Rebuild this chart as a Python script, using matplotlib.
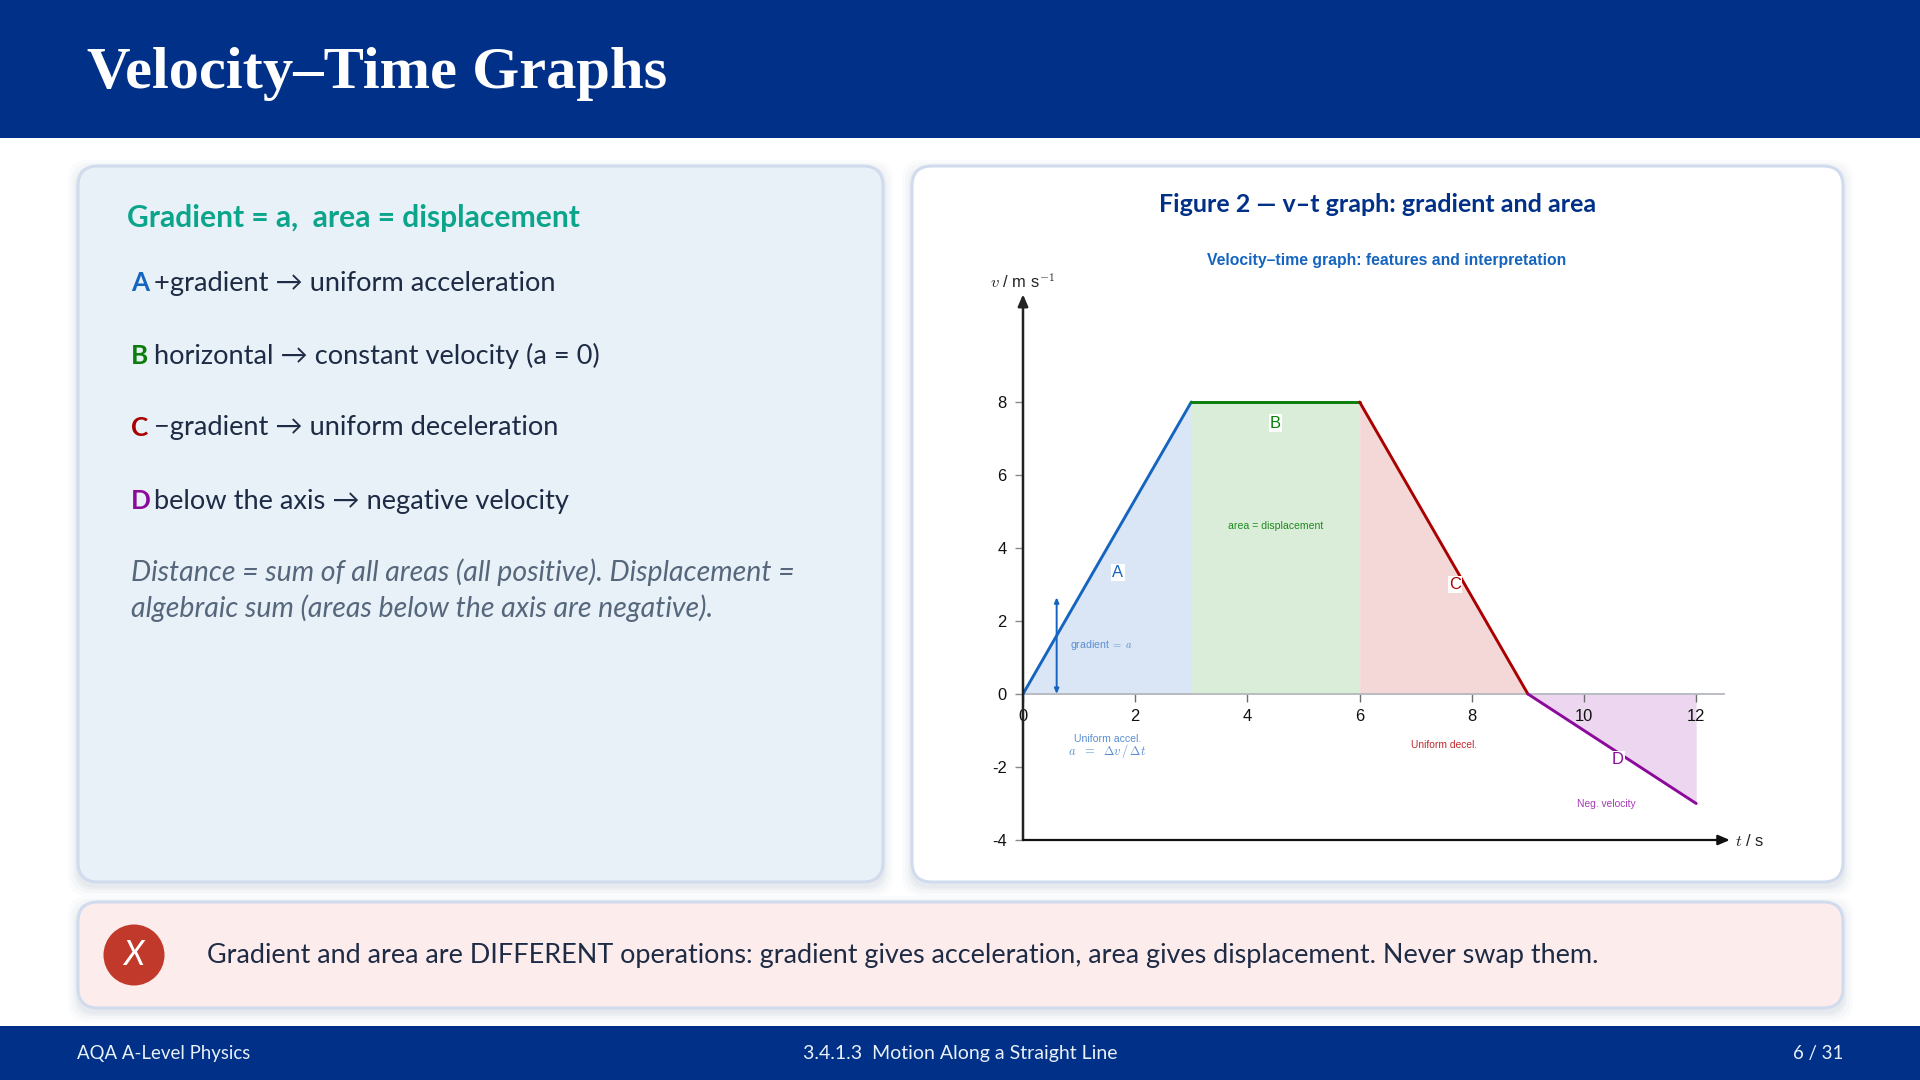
import matplotlib
matplotlib.use("Agg")
import matplotlib.pyplot as plt
from matplotlib.patches import FancyBboxPatch, Rectangle, Circle

plt.rcParams['mathtext.fontset'] = 'cm'

W, H = 1920, 1080
NAVY = '#003087'
INK = '#1E2B45'
BORDER = '#D0DCEE'

t_pts = [0, 3, 6, 9, 12]
v_pts = [0, 8, 8, 0, -3]
seg_lines = ['#1565C0', '#0A7D0A', '#AA0000', '#8B0A9B']
seg_fills = ['#DAE6F5', '#DAEDD8', '#F4D8D8', '#EDD7F0']
x_ticks = [0, 2, 4, 6, 8, 10, 12]
y_ticks = [-4, -2, 0, 2, 4, 6, 8]
point_labels = ['A', 'B', 'C', 'D']
point_t = [1.69, 4.5, 7.7, 10.6]
point_v = [3.33, 7.42, 3.0, -1.80]
bullets = [('A', '+gradient → uniform acceleration'),
           ('B', 'horizontal → constant velocity (a = 0)'),
           ('C', '−gradient → uniform deceleration'),
           ('D', 'below the axis → negative velocity')]
bullet_colors = ['#1565C0', '#0A7D0A', '#AA0000', '#8B0A9B']

fig = plt.figure(figsize=(19.2, 10.8), dpi=100, facecolor='white')
bg = fig.add_axes([0, 0, 1, 1])
bg.set_xlim(0, W); bg.set_ylim(H, 0); bg.axis('off')
FS = 0.72
LAT = ['Lato', 'DejaVu Sans']


def panel(x0, y0, x1, y1, fc):
    r = 20
    for i, a in zip((10, 7, 4, 2), (0.02, 0.025, 0.03, 0.03)):
        bg.add_patch(FancyBboxPatch((x0 - i + r, y0 + 4 - i + r), x1 - x0 + 2 * i - 2 * r, y1 - y0 + 2 * i - 2 * r,
                                    boxstyle=f'round,pad={r},rounding_size={r}', fc='#1E3A6E', ec='none', alpha=a))
    bg.add_patch(FancyBboxPatch((x0 + r, y0 + r), x1 - x0 - 2 * r, y1 - y0 - 2 * r,
                                boxstyle=f'round,pad={r},rounding_size={r}', fc=fc, ec=BORDER, lw=2.2))


bg.add_patch(Rectangle((0, 0), W, 138, fc=NAVY, ec='none'))
bg.add_patch(Rectangle((0, 1026), W, 54, fc=NAVY, ec='none'))
bg.text(87, 74, 'Velocity–Time Graphs', color='white', fontsize=60.5 * FS, family='Liberation Serif',
        weight='bold', va='center', ha='left')

panel(78, 166, 883, 882, '#E8F0F8')
panel(912, 166, 1843, 882, 'white')
panel(78, 902, 1843, 1008, '#FDECEC')

bg.text(127, 218, 'Gradient = a,  area = displacement', color='#0CA58C', fontsize=30 * FS, family=LAT,
        weight='bold', va='center')
for (k, body), c, y in zip(bullets, bullet_colors, (283, 356, 428, 501)):
    bg.text(131, y, k, color=c, fontsize=26 * FS, family=LAT, weight='bold', va='center')
    bg.text(154, y, body, color=INK, fontsize=27.3 * FS, family=LAT, va='center')
bg.text(131, 572, 'Distance = sum of all areas (all positive). Displacement =', color='#56677C',
        fontsize=28.5 * FS, family=LAT, style='italic', va='center')
bg.text(131, 608, 'algebraic sum (areas below the axis are negative).', color='#56677C',
        fontsize=28.5 * FS, family=LAT, style='italic', va='center')

bg.text(1378, 204, 'Figure 2 — v–t graph: gradient and area', color=NAVY, fontsize=25 * FS, family=LAT,
        weight='bold', ha='center', va='center')
bg.text(1387, 261, 'Velocity–time graph: features and interpretation', color='#1565C0', fontsize=15.8 * FS,
        family='Liberation Sans', weight='bold', ha='center', va='center')

bg.add_patch(Circle((134, 955), 30.5, fc='#C0392B', ec='none'))
bg.text(134, 955, 'X', color='white', fontsize=34 * FS, family='Lato', style='italic',
        ha='center', va='center')
bg.text(207, 956, 'Gradient and area are DIFFERENT operations: gradient gives acceleration, area gives displacement. Never swap them.',
        color=INK, fontsize=27.05 * FS, family=LAT, va='center')

bg.text(77, 1054, 'AQA A-Level Physics', color='#E8F0F8', fontsize=18.7 * FS, family=LAT, va='center')
bg.text(960, 1054, '3.4.1.3  Motion Along a Straight Line', color='#E8F0F8', fontsize=19.5 * FS, family=LAT,
        va='center', ha='center')
bg.text(1843, 1054, '6 / 31', color='#E8F0F8', fontsize=18.7 * FS, family=LAT, va='center', ha='right')

# chart axes: t=0 at px 1023, 56.1 px/s ; v=0 at px 694, 36.5 px/unit
px_t0, px_ts, px_v0, px_vu = 1023, 56.1, 694, 36.5
tmin, tmax, vmin, vmax = 0, 12.5, -4, 10.95
ax = fig.add_axes([(px_t0 + tmin * px_ts) / W, 1 - (px_v0 - vmin * px_vu) / H,
                   (tmax - tmin) * px_ts / W, (vmax - vmin) * px_vu / H])
ax.set_xlim(tmin, tmax); ax.set_ylim(vmin, vmax)
ax.patch.set_alpha(0)
for s in ('top', 'right', 'left'):
    ax.spines[s].set_visible(False)
ax.spines['bottom'].set_position(('data', 0))
ax.spines['bottom'].set_color('#B4B8BE')
ax.spines['bottom'].set_linewidth(1.3)
ax.set_xticks(x_ticks); ax.set_yticks(y_ticks)
ax.set_xticklabels([str(x) for x in x_ticks])
ax.set_yticklabels([str(y) for y in y_ticks])
ax.tick_params(axis='x', length=6, width=1, color='#6E6E6E', pad=5, labelsize=16.5 * FS, labelcolor='#111111')
ax.tick_params(axis='y', length=5.8, width=1, color='#8A8A8A', pad=6, labelsize=16.5 * FS, labelcolor='#111111')
for lab in ax.get_xticklabels() + ax.get_yticklabels():
    lab.set_family('Liberation Sans')

for i in range(4):
    ax.fill_between(t_pts[i:i + 2], v_pts[i:i + 2], 0, color=seg_fills[i], lw=0, zorder=1)
for i in range(4):
    ax.plot(t_pts[i:i + 2], v_pts[i:i + 2], color=seg_lines[i], lw=2.1, zorder=3, solid_capstyle='round')

ax.annotate('', xy=(0, vmax), xytext=(0, vmin), annotation_clip=False, zorder=4,
            arrowprops=dict(arrowstyle='-|>,head_width=0.3,head_length=0.7', color='#222222', lw=1.8,
                            shrinkA=0, shrinkB=0))
ax.annotate('', xy=(12.6, vmin), xytext=(0, vmin), annotation_clip=False, zorder=4,
            arrowprops=dict(arrowstyle='-|>,head_width=0.3,head_length=0.7', color='#111111', lw=1.6,
                            shrinkA=0, shrinkB=0))
ax.annotate('', xy=(0.6, 2.65), xytext=(0.6, 0), zorder=4,
            arrowprops=dict(arrowstyle='<|-|>,head_width=0.13,head_length=0.3', color='#1565C0', lw=1.4,
                            shrinkA=0, shrinkB=0))

for lab, tv, vv, c in zip(point_labels, point_t, point_v, seg_lines):
    ax.text(tv, vv, lab, color=c, fontsize=16.5 * FS, family='Liberation Sans', ha='center', va='center', zorder=5,
            bbox=dict(fc='white', ec='none', pad=1.0))

SF = 'Liberation Sans'
ax.text(1.4, 1.34, r'gradient $=\ a$', color='#5B8FD0', fontsize=10.5 * FS, family=SF, ha='center', va='center', zorder=5)
ax.text(4.5, 4.6, 'area = displacement', color='#1F8A1F', fontsize=10.5 * FS, family=SF, ha='center', va='center', zorder=5)
ax.text(1.5, -1.22, 'Uniform accel.', color='#5B8FD0', fontsize=10.5 * FS, family=SF, ha='center', va='center')
ax.text(1.5, -1.56, r'$a\ \ =\ \ \Delta v\,/\,\Delta t$', color='#5B8FD0', fontsize=12.5 * FS, ha='center', va='center')
ax.text(7.5, -1.4, 'Uniform decel.', color='#C0282D', fontsize=10.3 * FS, family=SF, ha='center', va='center')
ax.text(10.4, -3.02, 'Neg. velocity', color='#A43CB4', fontsize=10.3 * FS, family=SF, ha='center', va='center')

bg.text(1022, 282, r'$v$ / m s$^{-1}$', color='#222222', fontsize=16.5 * FS, family=SF, ha='center', va='center')
bg.text(1750, 841, r'$t$ / s', color='#222222', fontsize=16.5 * FS, family=SF, ha='center', va='center')

fig.savefig('out.png', dpi=100)
